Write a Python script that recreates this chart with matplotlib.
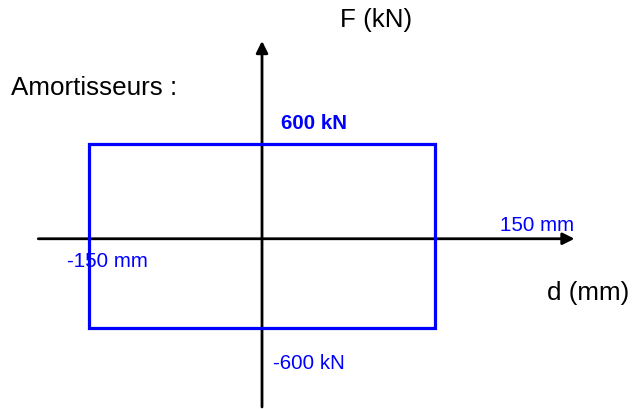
import matplotlib
matplotlib.use("Agg")
import matplotlib.pyplot as plt
from matplotlib.patches import Rectangle

plt.rcParams['font.family'] = ['Liberation Sans', 'DejaVu Sans']

# Data
d_limits = [-150, 150]      # mm
F_limits = [-600, 600]      # kN
d_labels = ["-150 mm", "150 mm"]
F_labels = ["600 kN", "-600 kN"]
title_text = "Amortisseurs :"
x_axis_label = "d (mm)"
y_axis_label = "F (kN)"

W, H, DPI = 639, 410, 100
fig = plt.figure(figsize=(W / DPI, H / DPI), dpi=DPI)
ax = fig.add_axes([0, 0, 1, 1])
ax.set_xlim(-227.2, 326.9)
ax.set_ylim(-1128.3, 1545.7)
ax.axis('off')

def pt(px):
    return px * 72 / DPI

axis_y = -18  # drawn position of horizontal axis (slightly below zero as in reference)

# axes arrows
ax.annotate('', xy=(271, axis_y), xytext=(-194, axis_y),
            arrowprops=dict(arrowstyle='-|>,head_length=0.7,head_width=0.35',
                            color='black', lw=2, shrinkA=0, shrinkB=0))
ax.annotate('', xy=(0, 1272), xytext=(0, -1115),
            arrowprops=dict(arrowstyle='-|>,head_length=0.7,head_width=0.35',
                            color='black', lw=2, shrinkA=0, shrinkB=0))

# rectangle
rect = Rectangle((d_limits[0], F_limits[0]), d_limits[1] - d_limits[0],
                 F_limits[1] - F_limits[0], fill=False, edgecolor='#0000FF',
                 lw=pt(3.2), zorder=3)
ax.add_patch(rect)

blue = '#0000FF'
big = pt(26)
small = pt(20.5)

ax.text(67.6, 1415, y_axis_label, fontsize=big, ha='left', va='center', color='black')
ax.text(-217.6, 970, title_text, fontsize=big, ha='left', va='center', color='black')
ax.text(247, -365, x_axis_label, fontsize=big, ha='left', va='center', color='black')

ax.text(16.5, 737, F_labels[0], fontsize=small, fontweight='bold', ha='left', va='center', color=blue)
ax.text(9.5, -822, F_labels[1], fontsize=small, ha='left', va='center', color=blue)
ax.text(206.5, 72, d_labels[1], fontsize=small, ha='left', va='center', color=blue)
ax.text(-169, -157, d_labels[0], fontsize=small, ha='left', va='center', color=blue)

fig.savefig('out.png', dpi=DPI)
